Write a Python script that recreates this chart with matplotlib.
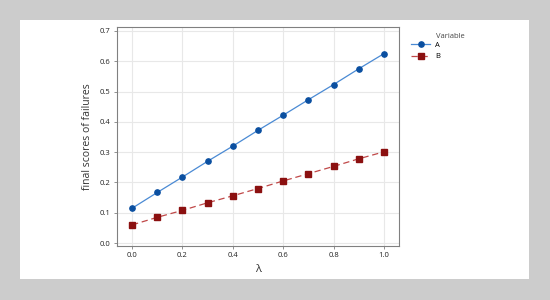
import matplotlib
matplotlib.use("Agg")
import matplotlib.pyplot as plt
from matplotlib.patches import Rectangle

lam = [0.0, 0.1, 0.2, 0.3, 0.4, 0.5, 0.6, 0.7, 0.8, 0.9, 1.0]
series_a = [0.115, 0.167, 0.218, 0.270, 0.320, 0.372, 0.422, 0.473, 0.523, 0.575, 0.625]
series_b = [0.060, 0.085, 0.108, 0.133, 0.156, 0.180, 0.205, 0.229, 0.253, 0.278, 0.301]
xticks = [0.0, 0.2, 0.4, 0.6, 0.8, 1.0]
yticks = [0.0, 0.1, 0.2, 0.3, 0.4, 0.5, 0.6, 0.7]

plt.rcParams["font.family"] = ["Open Sans", "DejaVu Sans"]

W, H = 550, 300
fig = plt.figure(figsize=(5.5, 3.0), dpi=100)
fig.patch.set_facecolor("#cccccc")
fig.patches.append(Rectangle((20 / W, 1 - 279 / H), (529 - 20) / W, (279 - 20) / H,
                             transform=fig.transFigure, facecolor="white",
                             edgecolor="none", zorder=-10))

ax = fig.add_axes([117 / W, 1 - 245.5 / H, (399 - 117) / W, (245.5 - 27) / H])
ax.set_zorder(5)
ax.set_facecolor("white")
ax.plot(lam, series_a, color="#4a8ad4", lw=0.9, marker="o", ms=3.8,
        mfc="#0a4fa0", mec="#0a4fa0", label="A")
ax.plot(lam, series_b, color="#c04848", lw=0.9, ls=(0, (5, 3)), marker="s", ms=3.8,
        mfc="#8b1010", mec="#8b1010", label="B")

ax.set_xlim(-0.06, 1.06)
ax.set_ylim(-0.008, 0.713)
ax.set_xticks(xticks)
ax.set_xticklabels([f"{v:.1f}" for v in xticks])
ax.set_yticks(yticks)
ax.set_yticklabels([f"{v:.1f}" for v in yticks])
ax.grid(True, color="#e8e8e8", lw=0.8)
ax.set_axisbelow(True)
for s in ax.spines.values():
    s.set_color("#808080")
    s.set_linewidth(0.8)
ax.tick_params(labelsize=5.5, length=2.5, width=0.6, color="#808080", pad=2,
               labelcolor="#222222")
ax.set_xlabel("λ", fontsize=8, labelpad=4, color="#333333")
ax.set_ylabel("final scores of failures", fontsize=7.5, labelpad=5, color="#333333")

leg = fig.legend(handles=ax.get_lines(), loc="upper left",
                 bbox_to_anchor=(411 / W, 1 - 41.5 / H),
                 bbox_transform=fig.transFigure,
                 frameon=False, fontsize=5.5, handlelength=2.5,
                 handletextpad=0.7, labelspacing=0.55, borderaxespad=0,
                 borderpad=0)
fig.text(436 / W, 1 - 36 / H, "Variable", fontsize=5.5, color="#444444",
         va="center", ha="left")

fig.savefig("out.png", dpi=100, facecolor=fig.get_facecolor())
